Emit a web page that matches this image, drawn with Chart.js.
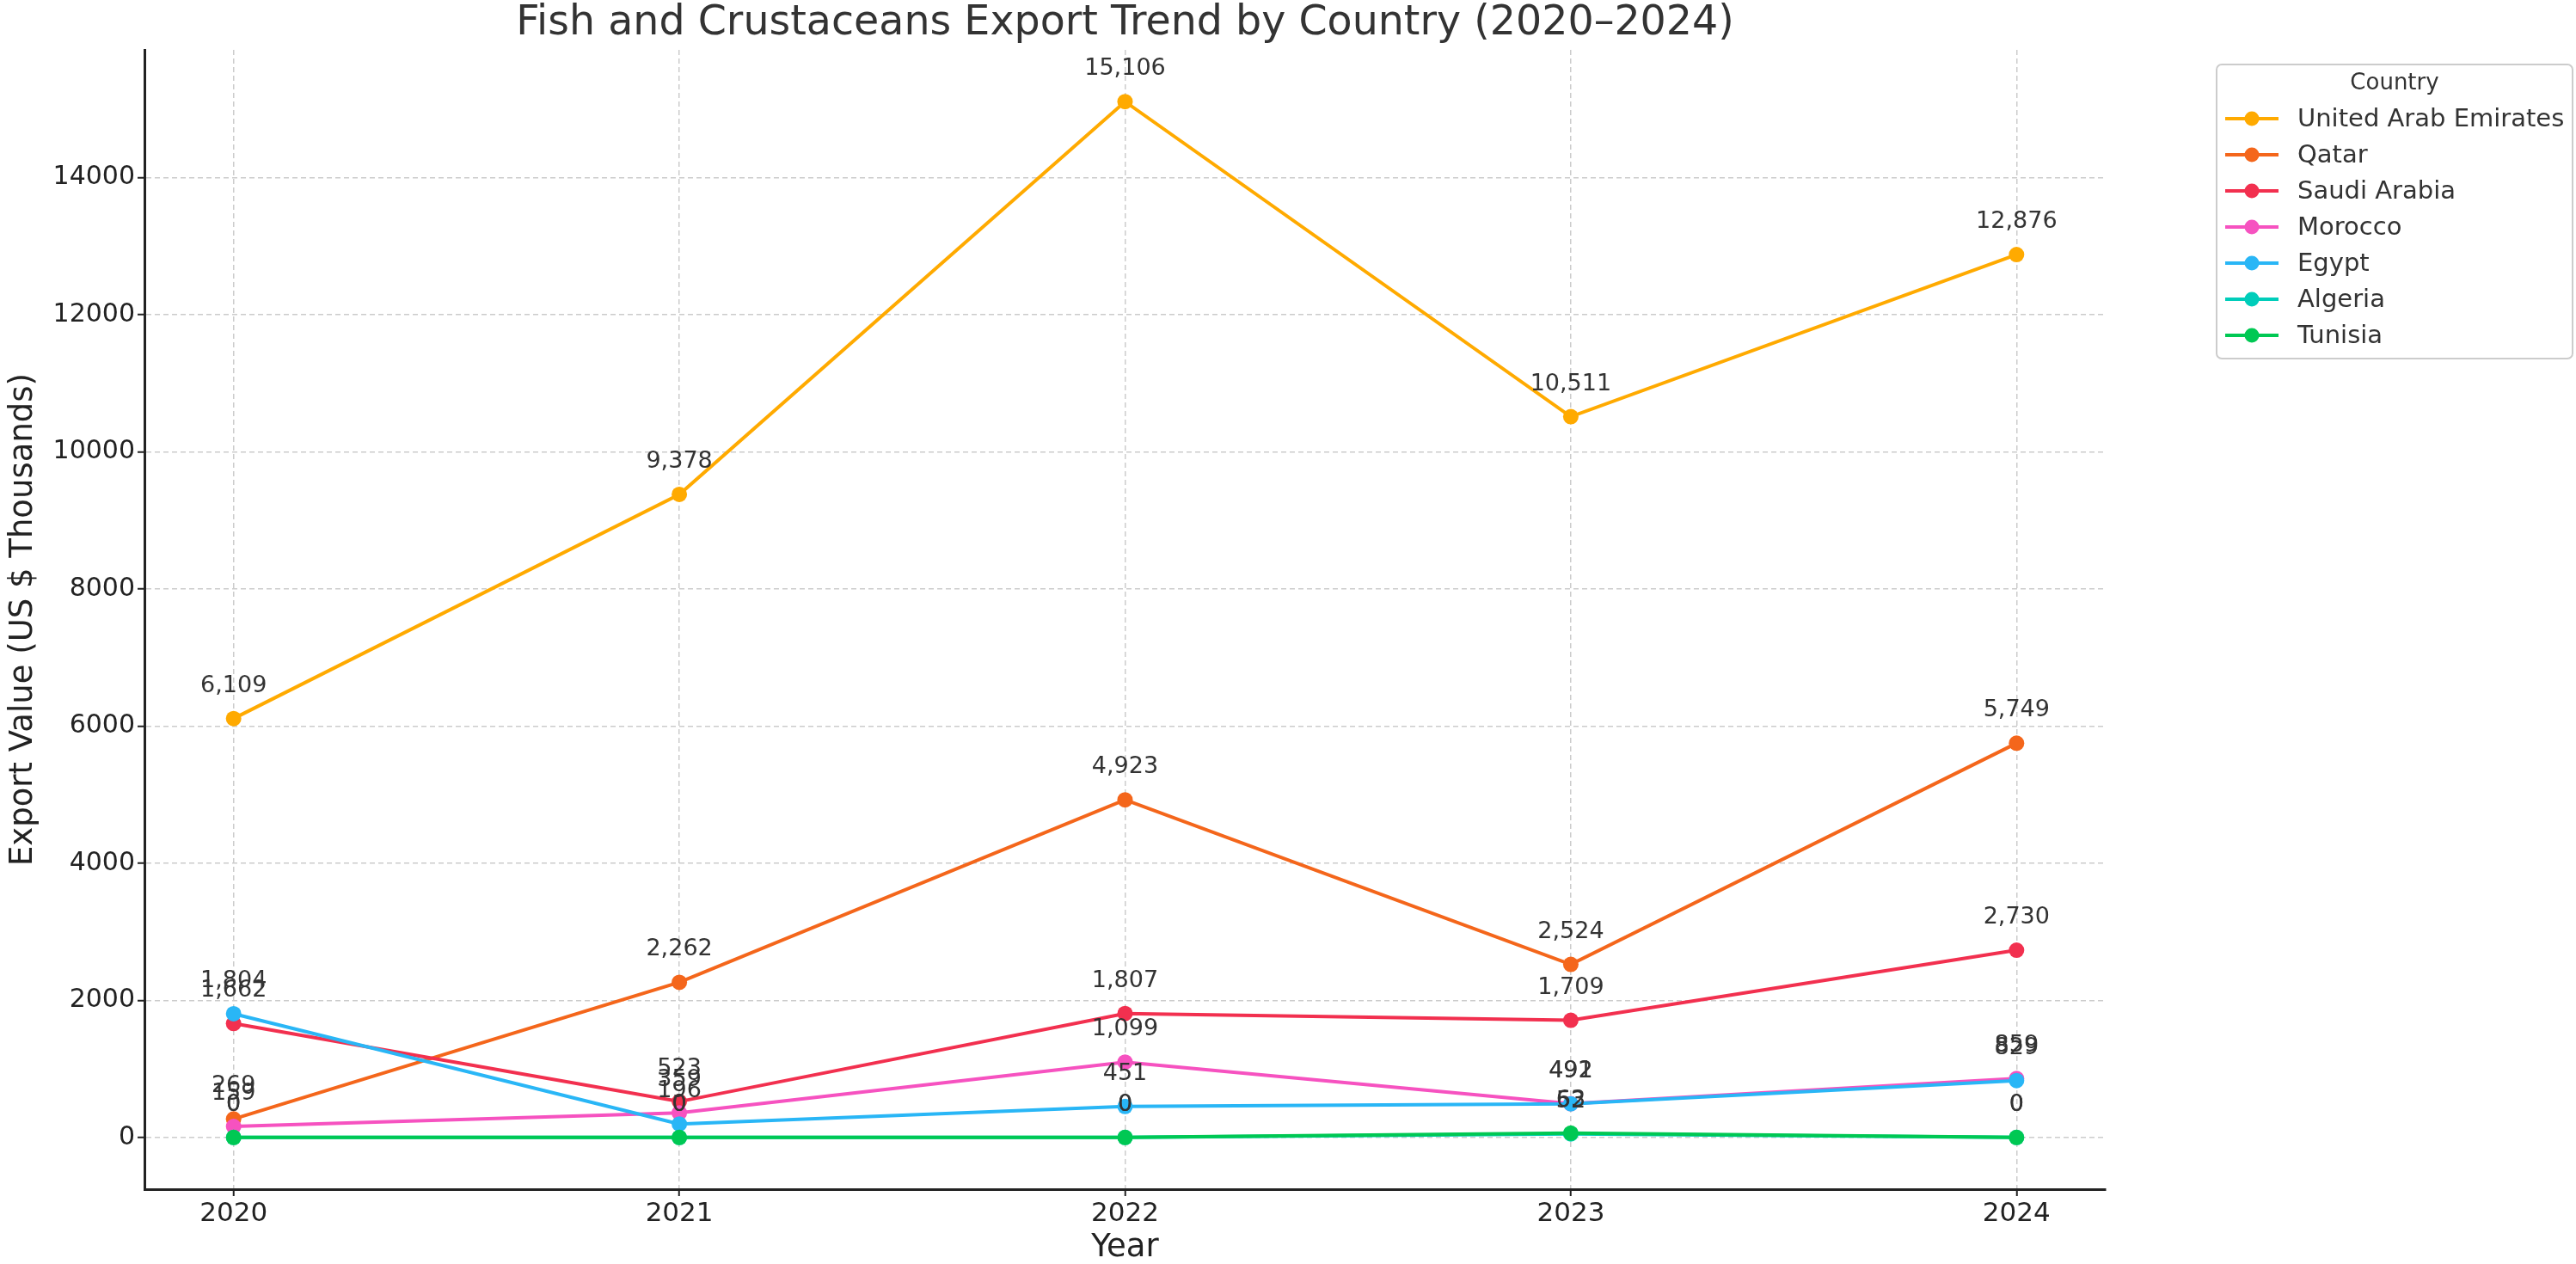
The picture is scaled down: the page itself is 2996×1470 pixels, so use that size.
<!DOCTYPE html>
<html>
<head>
<meta charset="utf-8">
<script src="https://cdn.jsdelivr.net/npm/chart.js@4.4.1/dist/chart.umd.min.js"></script>
<style>
  html, body { margin: 0; padding: 0; background: #fff; }
  canvas { display: block; }
</style>
</head>
<body>
<canvas id="trend-chart" width="2996" height="1470"></canvas>
<script>
// values (US $ thousands)
const years = [2020, 2021, 2022, 2023, 2024];
const countries = ['United Arab Emirates', 'Qatar', 'Saudi Arabia', 'Morocco', 'Egypt', 'Algeria', 'Tunisia'];
const uae = [6109, 9378, 15106, 10511, 12876];
const qatar = [269, 2262, 4923, 2524, 5749];
const saudi = [1662, 523, 1807, 1709, 2730];
const morocco = [159, 359, 1099, 492, 859];
const egypt = [1804, 196, 451, 491, 829];
const algeria = [0, 0, 0, 52, 0];
const tunisia = [0, 0, 0, 63, 0];
const yTicks = [0, 2000, 4000, 6000, 8000, 10000, 12000, 14000];

const seriesValues = [uae, qatar, saudi, morocco, egypt, algeria, tunisia];
const colors = ['#FFAA00', '#F4661B', '#F2304F', '#F652C0', '#29B6F6', '#00CDBA', '#00C853'];

const FONT = "'DejaVu Sans', sans-serif";
const TEXT = '#333333';

//labels above every point
const pointLabels = {
    id: 'pointLabels',
    afterDatasetsDraw(chart) {
        const ctx = chart.ctx;
        ctx.save();
        ctx.font = '27px ' + FONT;
        ctx.fillStyle = TEXT;
        ctx.textAlign = 'center';
        ctx.textBaseline = 'middle';
        chart.data.datasets.forEach((ds, i) => {
            chart.getDatasetMeta(i).data.forEach((pt, j) => {
                ctx.fillText(ds.data[j].y.toLocaleString('en-US'), pt.x, pt.y - 38);
            });
        });
        ctx.restore();
    }
};

// title + legend box outside the plot, like the matplotlib original
const decorations = {
    id: 'decorations',
    afterDraw(chart) {
        const ctx = chart.ctx;
        const area = chart.chartArea;
        ctx.save();
        ctx.fillStyle = TEXT;
        ctx.font = '47.5px ' + FONT;
        ctx.textAlign = 'center';
        ctx.textBaseline = 'middle';
        ctx.fillText('Fish and Crustaceans Export Trend by Country (2020–2024)', (area.left + area.right) / 2, 28);

        // legend
        const bx = 2578, by = 75, bw = 414, bh = 342;
        ctx.beginPath();
        ctx.roundRect(bx, by, bw, bh, 6);
        ctx.fillStyle = 'rgba(255,255,255,0.8)';
        ctx.fill();
        ctx.strokeStyle = '#cccccc';
        ctx.lineWidth = 2;
        ctx.stroke();

        ctx.fillStyle = TEXT;
        ctx.font = '26px ' + FONT;
        ctx.fillText('Country', bx + bw / 2, 97);

        ctx.textAlign = 'left';
        ctx.font = '29px ' + FONT;
        chart.data.datasets.forEach((ds, i) => {
            const y = 138 + i * 42;
            ctx.strokeStyle = ds.borderColor;
            ctx.lineWidth = 4;
            ctx.beginPath();
            ctx.moveTo(2588, y);
            ctx.lineTo(2650, y);
            ctx.stroke();
            ctx.fillStyle = ds.borderColor;
            ctx.beginPath();
            ctx.arc(2619, y, 8.5, 0, Math.PI * 2);
            ctx.fill();
            ctx.fillStyle = TEXT;
            ctx.fillText(ds.label, 2672, y + 1);
        });
        ctx.restore();
    }
};

const gridOpts = {
    color: '#cccccc',
    lineWidth: 1.5,
    tickColor: '#222222',
    tickLength: 8,
    tickWidth: 2,
    tickBorderDash: []
};

new Chart(document.getElementById('trend-chart').getContext('2d'), {
    type: 'line',
    data: {
        datasets: countries.map((name, i) => ({
            label: name,
            data: years.map((yr, j) => ({ x: yr, y: seriesValues[i][j] })),
            borderColor: colors[i],
            backgroundColor: colors[i],
            borderWidth: 4,
            pointRadius: 9,
            pointHoverRadius: 9,
            pointBorderWidth: 0,
            tension: 0,
            fill: false,
            // later countries drawn on top, as in the original
            order: countries.length - i
        }))
    },
    options: {
        responsive: false,
        animation: false,
        devicePixelRatio: 1,
        layout: { padding: { top: 58, right: 547, left: 0, bottom: 0 } },
        plugins: {
            legend: { display: false },
            title: { display: false },
            tooltip: { enabled: false }
        },
        scales: {
            x: {
                type: 'linear',
                min: 2019.8,
                max: 2024.2,
                afterBuildTicks: scale => { scale.ticks = years.map(v => ({ value: v })); },
                afterFit: scale => { scale.height = 87; },
                grid: gridOpts,
                border: { display: true, color: '#222222', width: 3, dash: [6, 4] },
                ticks: {
                    color: '#222222',
                    padding: 2,
                    maxRotation: 0,
                    font: { family: FONT, size: 31 },
                    callback: v => String(v)
                },
                title: {
                    display: true,
                    text: 'Year',
                    color: '#222222',
                    padding: { top: 0, bottom: 0 },
                    font: { family: FONT, size: 37, lineHeight: 1 }
                }
            },
            y: {
                min: -755,
                max: 15861,
                afterBuildTicks: scale => { scale.ticks = yTicks.map(v => ({ value: v })); },
                afterFit: scale => { scale.width = 168; },
                grid: gridOpts,
                border: { display: true, color: '#222222', width: 3, dash: [6, 4] },
                ticks: {
                    color: '#222222',
                    padding: 3,
                    font: { family: FONT, size: 30 },
                    callback: v => String(v)
                },
                title: {
                    display: true,
                    text: 'Export Value (US $ Thousands)',
                    color: '#222222',
                    padding: { top: 5, bottom: 0 },
                    font: { family: FONT, size: 37 }
                }
            }
        }
    },
    plugins: [pointLabels, decorations]
});
</script>
</body>
</html>
